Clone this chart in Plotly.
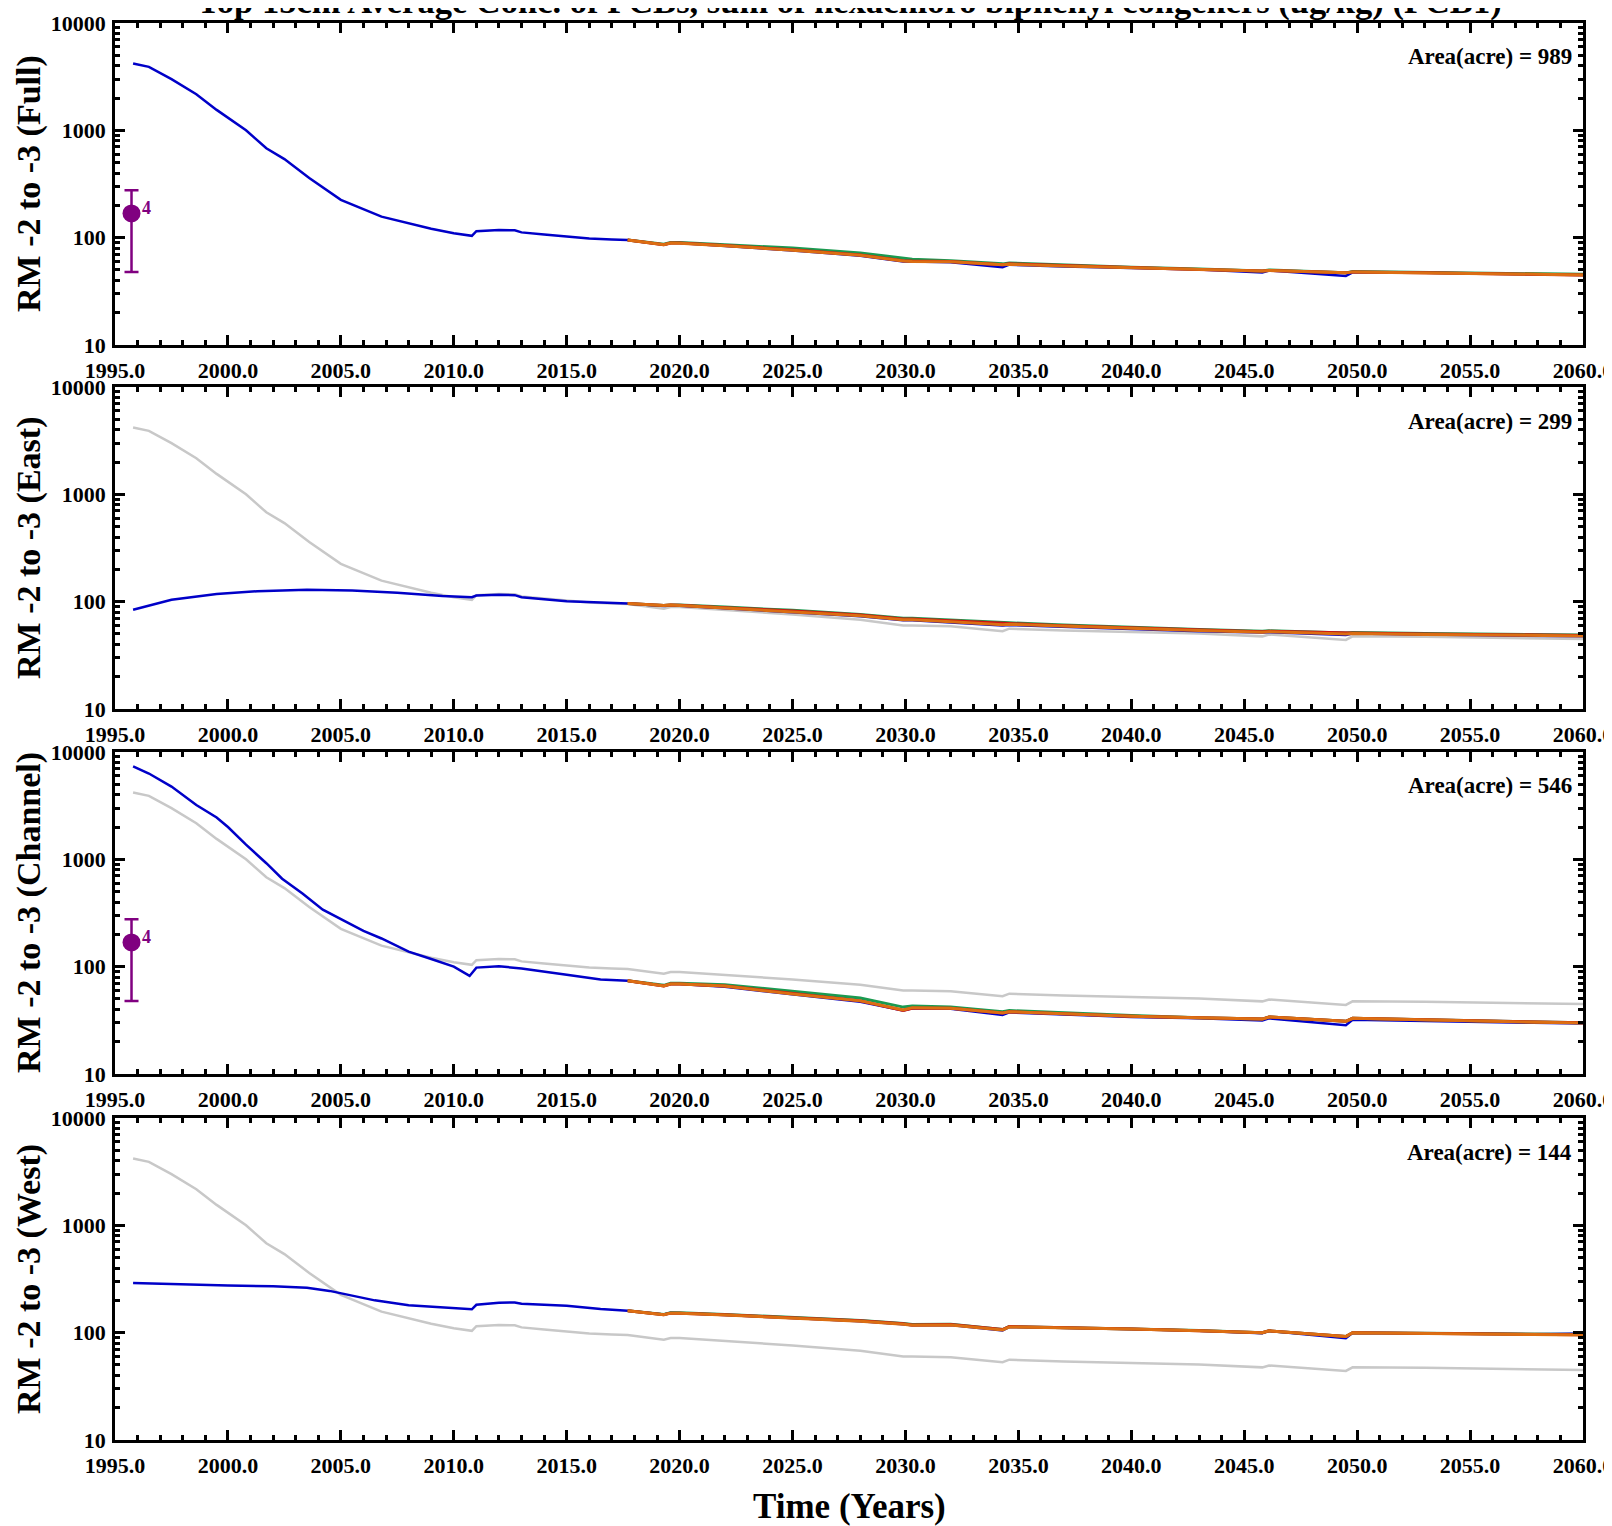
import math
import plotly.graph_objects as go

# ---------------- data ----------------
PANEL_NAMES = ["Full", "East", "Channel", "West"]
AREAS = [989, 299, 546, 144]
TITLE = "Top 15cm Average Conc. of PCBs, sum of hexachloro biphenyl congeners (ug/kg) (PCB1)"
X_TITLE = "Time (Years)"
Y_TICKS = [10, 100, 1000, 10000]
X_TICKS = [1995, 2000, 2005, 2010, 2015, 2020, 2025, 2030, 2035, 2040, 2045, 2050, 2055, 2060]

FULL_YEARS = [1995.8, 1996.5, 1997.5, 1998.6, 1999.5, 2000.0, 2000.8, 2001.7, 2002.5, 2003.6,
              2005.0, 2006.8, 2008.0, 2009.0, 2010.0, 2010.8, 2011.0, 2012.0, 2012.7, 2013.0,
              2014.0, 2015.0, 2016.0, 2017.0, 2017.7, 2019.3, 2019.6, 2020.0, 2022.0, 2025.0,
              2028.0, 2029.9, 2030.3, 2032.0, 2034.3, 2034.6, 2037.0, 2040.0, 2043.0, 2045.8,
              2046.1, 2049.5, 2049.8, 2053.0, 2057.8, 2060.0]
FULL_BLUE = [4200, 3900, 3000, 2170, 1550, 1300, 1000, 680, 540, 360,
             225, 157, 135, 121, 110, 104, 115, 118, 117, 112,
             107, 102, 98, 96, 95, 86, 89, 89, 84, 76,
             68, 60, 60, 59, 53, 56, 54, 52, 50.5, 47.5,
             49.5, 44, 47.5, 47, 45.5, 45]

EAST_YEARS = [1995.8, 1996.5, 1997.5, 1999.5, 2001.3, 2003.5, 2005.5, 2007.5, 2009.5, 2010.8,
              2011.0, 2012.0, 2012.7, 2013.0, 2015.0, 2017.7, 2019.3, 2019.6, 2020.0, 2022.0,
              2025.0, 2028.0, 2029.9, 2030.3, 2032.0, 2034.3, 2034.6, 2037.0, 2040.0, 2043.0,
              2045.8, 2046.1, 2049.5, 2049.8, 2053.0, 2057.8, 2060.0]
EAST_BLUE = [84, 92, 104, 118, 125, 129, 127, 121, 113, 110,
             114, 116, 115, 110, 101, 96, 91, 92, 91.5, 87,
             80, 73, 67, 67, 64, 60, 60.5, 58, 55, 53,
             51.5, 52, 49, 50.5, 49.5, 48, 47.5]

CHAN_YEARS = [1995.8, 1996.5, 1997.5, 1998.6, 1999.5, 2000.0, 2000.8, 2001.7, 2002.4, 2003.3,
              2004.2, 2005.0, 2006.0, 2006.8, 2008.0, 2009.0, 2010.0, 2010.7, 2011.0, 2012.0,
              2013.0, 2015.0, 2016.5, 2017.7, 2019.3, 2019.6, 2020.0, 2022.0, 2025.0, 2028.0,
              2029.9, 2030.3, 2032.0, 2034.3, 2034.6, 2037.0, 2040.0, 2043.0, 2045.8, 2046.1,
              2049.5, 2049.8, 2053.0, 2057.8, 2060.0]
CHAN_BLUE = [7360, 6300, 4760, 3210, 2450, 2000, 1370, 920, 660, 480,
             340, 277, 215, 183, 138, 118, 100, 82, 98, 101,
             96, 84, 76, 74, 66, 69, 69, 65, 55, 47,
             39, 41, 40.5, 35.5, 37.5, 36, 34, 33, 31.5, 33,
             28.5, 32, 31, 30, 29.5]

WEST_YEARS = [1995.8, 1997.0, 1998.5, 2000.0, 2002.0, 2003.5, 2004.5, 2005.5, 2006.5, 2008.0,
              2010.0, 2010.8, 2011.0, 2012.0, 2012.7, 2013.0, 2015.0, 2016.5, 2017.7, 2019.3,
              2019.6, 2020.0, 2022.0, 2025.0, 2028.0, 2029.9, 2030.3, 2032.0, 2034.3, 2034.6,
              2037.0, 2040.0, 2043.0, 2045.8, 2046.1, 2049.5, 2049.8, 2053.0, 2057.8, 2060.0]
WEST_BLUE = [290, 285, 278, 275, 270, 262, 245, 220, 200, 180,
             170, 165, 182, 190, 191, 186, 178, 166, 160, 148,
             153, 152, 146, 137, 128, 120, 117, 118, 105, 113,
             111, 108, 104, 99, 104, 89, 100, 99, 96.5, 98]

# scenario runs (start at end of hindcast)
SCEN_YEARS = [2017.7, 2019.3, 2019.6, 2020.0, 2022.0, 2025.0, 2028.0, 2029.9, 2030.3, 2032.0,
              2034.3, 2034.6, 2037.0, 2040.0, 2043.0, 2045.8, 2046.1, 2049.5, 2049.8, 2053.0,
              2057.8, 2060.0]
FULL_GREEN = [95, 87, 90, 90, 86, 80, 72, 64, 63, 61, 57, 58, 55.5, 53, 51, 49, 50, 47, 48.5, 47.5, 46.5, 45.5]
FULL_RED = [95, 86, 89, 89, 84.5, 77, 69, 61, 60.5, 60, 56, 57, 55, 52.5, 50.5, 49, 49.5, 47, 48, 47, 46, 45]
FULL_ORANGE = [95, 86, 89, 88.5, 84, 76.5, 68.5, 60.5, 60, 59.5, 56, 56.5, 54.5, 52.5, 50.5, 49, 49.5, 47, 48, 47, 46, 45]

EAST_GREEN = [96, 92, 93, 93, 89, 83, 76, 70, 70, 67, 63, 63.5, 60.5, 57.5, 55, 53, 53.5, 51, 51.5, 50.5, 49.5, 49]
EAST_RED = [96, 92, 93, 92.5, 88, 82, 75, 69, 69, 66, 62, 62.5, 59.5, 57, 54.5, 52.5, 53, 50.5, 51, 50, 49, 48.5]
EAST_ORANGE = [96, 92, 93, 92, 87.5, 81, 74, 68, 68, 65, 61, 61.5, 59, 56.5, 54, 52, 52.5, 50, 50.5, 49.5, 48.5, 48]

CHAN_GREEN = [74, 67, 70, 70, 68, 59, 51, 42, 43, 42, 38, 39, 37, 35, 33.5, 32.5, 34, 31, 33, 32, 31, 30]
CHAN_RED = [74, 66, 69, 69, 66, 56, 48, 39, 41, 41, 37, 38, 36.5, 34.5, 33.5, 32.5, 34, 31, 33, 32, 30.5, 30]
CHAN_ORANGE = [74, 66, 69, 69, 66, 55.5, 48, 39.5, 41.5, 41, 37, 38, 36.5, 34.5, 33.5, 32.5, 34, 31, 33, 32, 30.5, 29.8]

WEST_GREEN = [160, 148, 153, 153, 148, 139, 130, 122, 119, 120, 107, 114, 112, 108, 105, 100, 104, 92, 100, 99, 97, 96]
WEST_RED = [160, 147, 152, 152, 147, 138, 129, 121, 118, 119, 107, 114, 112, 108, 104, 100, 104, 92, 100, 99, 96.5, 95.5]
WEST_ORANGE = [160, 147, 152, 152, 146, 137, 128, 120, 117, 118, 106, 113, 111, 108, 104, 100, 104, 92, 100, 99, 96, 95]

# observation (mean with range) shown in Full and Channel panels
OBS_YEAR = 1995.73
OBS_VALUE = 168
OBS_LOW = 48
OBS_HIGH = 277
OBS_COUNT = 4

# ---------------- styling ----------------
BLUE = "#0000C8"
GREEN = "#1B9A50"
RED = "#CC1414"
ORANGE = "#DC6E12"
GRAY = "#C8C8C8"
PURPLE = "#800080"
FONT = "Liberation Serif, Times New Roman, serif"

OFF = 8  # default page margin of the HTML body
W, H = 1604, 1518
PLOT_LEFT, PLOT_RIGHT = 115 - OFF, 1583 - OFF
PLOT_TOP, PLOT_BOTTOM = 23 - OFF, 1441 - OFF
L, R, T, B = PLOT_LEFT, W - PLOT_RIGHT, PLOT_TOP, H - PLOT_BOTTOM
PLOT_W = PLOT_RIGHT - PLOT_LEFT
PLOT_H = PLOT_BOTTOM - PLOT_TOP
PANEL_TOPS = [23, 387, 752, 1118]   # page pixels
PANEL_H = 322


def paper_y(page_pix):
    return (PLOT_BOTTOM - (page_pix - OFF)) / PLOT_H


def paper_x(page_pix):
    return ((page_pix - OFF) - PLOT_LEFT) / PLOT_W


panels = [
    dict(years=FULL_YEARS, blue=FULL_BLUE, g=FULL_GREEN, r=FULL_RED, o=FULL_ORANGE, gray=False, obs=True),
    dict(years=EAST_YEARS, blue=EAST_BLUE, g=EAST_GREEN, r=EAST_RED, o=EAST_ORANGE, gray=True, obs=False),
    dict(years=CHAN_YEARS, blue=CHAN_BLUE, g=CHAN_GREEN, r=CHAN_RED, o=CHAN_ORANGE, gray=True, obs=True),
    dict(years=WEST_YEARS, blue=WEST_BLUE, g=WEST_GREEN, r=WEST_RED, o=WEST_ORANGE, gray=True, obs=False),
]

fig = go.Figure()
minor_y = [m * 10 ** e for e in range(1, 4) for m in range(2, 10)]
minor_x = list(range(1995, 2061))

for i, p in enumerate(panels):
    sfx = "" if i == 0 else str(i + 1)
    xa, ya = "x" + sfx, "y" + sfx
    if p["gray"]:
        fig.add_trace(go.Scatter(x=FULL_YEARS, y=FULL_BLUE, mode="lines",
                                 line=dict(color=GRAY, width=2.5), xaxis=xa, yaxis=ya, showlegend=False))
    fig.add_trace(go.Scatter(x=p["years"], y=p["blue"], mode="lines",
                             line=dict(color=BLUE, width=2.5), xaxis=xa, yaxis=ya, showlegend=False))
    for key, col in (("g", GREEN), ("r", RED), ("o", ORANGE)):
        fig.add_trace(go.Scatter(x=SCEN_YEARS, y=p[key], mode="lines",
                                 line=dict(color=col, width=3), xaxis=xa, yaxis=ya, showlegend=False))
    if p["obs"]:
        fig.add_trace(go.Scatter(
            x=[OBS_YEAR], y=[OBS_VALUE], mode="markers",
            marker=dict(color=PURPLE, size=18),
            error_y=dict(type="data", symmetric=False,
                         array=[OBS_HIGH - OBS_VALUE], arrayminus=[OBS_VALUE - OBS_LOW],
                         color=PURPLE, thickness=2.5, width=7),
            xaxis=xa, yaxis=ya, showlegend=False, cliponaxis=False))
        fig.add_annotation(x=OBS_YEAR, y=math.log10(OBS_VALUE), xref=xa, yref=ya,
                           text=str(OBS_COUNT), showarrow=False, xshift=15, yshift=5,
                           font=dict(family=FONT, size=18, color=PURPLE, weight="bold"))

    top = PANEL_TOPS[i]
    dom = [paper_y(top + PANEL_H), paper_y(top)]
    fig.layout["xaxis" + sfx] = dict(
        domain=[0, 1], anchor=ya, range=[1995 - 0.001, 2060 + 0.001],
        tickmode="array", tickvals=X_TICKS, ticklabeloverflow="allow",
        tickformat=".1f", ticks="inside", ticklen=10, tickwidth=2.5, tickcolor="black",
        minor=dict(tickmode="array", tickvals=minor_x, ticks="inside", ticklen=5,
                   tickwidth=2.5, tickcolor="black"),
        showline=True, linewidth=2.5, linecolor="black", mirror="allticks",
        showgrid=False, zeroline=False, ticklabelstandoff=4,
        tickfont=dict(family=FONT, size=22, color="black", weight="bold"))
    fig.layout["yaxis" + sfx] = dict(
        domain=dom, anchor=xa, type="log", range=[1, 4],
        tickmode="array", tickvals=Y_TICKS, ticktext=[str(v) for v in Y_TICKS],
        ticklabeloverflow="allow",
        ticks="inside", ticklen=10, tickwidth=2.5, tickcolor="black",
        minor=dict(tickmode="array", tickvals=minor_y, ticks="inside", ticklen=5,
                   tickwidth=2.5, tickcolor="black"),
        showline=True, linewidth=2.5, linecolor="black", mirror="allticks",
        showgrid=False, zeroline=False, ticklabelstandoff=2,
        tickfont=dict(family=FONT, size=22, color="black", weight="bold"))

    fig.add_annotation(xref="paper", yref="paper", x=paper_x(29), y=paper_y(top + PANEL_H / 2),
                       text="RM -2 to -3 (" + PANEL_NAMES[i] + ")", textangle=-90, showarrow=False,
                       xanchor="center", yanchor="middle",
                       font=dict(family=FONT, size=34, color="black", weight="bold"))
    fig.add_annotation(xref="paper", yref="paper", x=paper_x(1574), y=paper_y(top + 34),
                       text="Area(acre) = " + str(AREAS[i]), showarrow=False,
                       xanchor="right", yanchor="middle",
                       font=dict(family=FONT, size=23, color="black", weight="bold"))

fig.add_annotation(xref="paper", yref="paper", x=paper_x(849), y=paper_y(2), text=TITLE, showarrow=False,
                   xanchor="center", yanchor="middle",
                   font=dict(family=FONT, size=34.5, color="black", weight="bold"))
fig.add_annotation(xref="paper", yref="paper", x=paper_x(849), y=paper_y(1506), text=X_TITLE, showarrow=False,
                   xanchor="center", yanchor="middle",
                   font=dict(family=FONT, size=35, color="black", weight="bold"))

fig.update_layout(width=W, height=H, margin=dict(l=L, r=R, t=T, b=B, autoexpand=False),
                  paper_bgcolor="white", plot_bgcolor="white", showlegend=False)

fig.write_html("out.html")
